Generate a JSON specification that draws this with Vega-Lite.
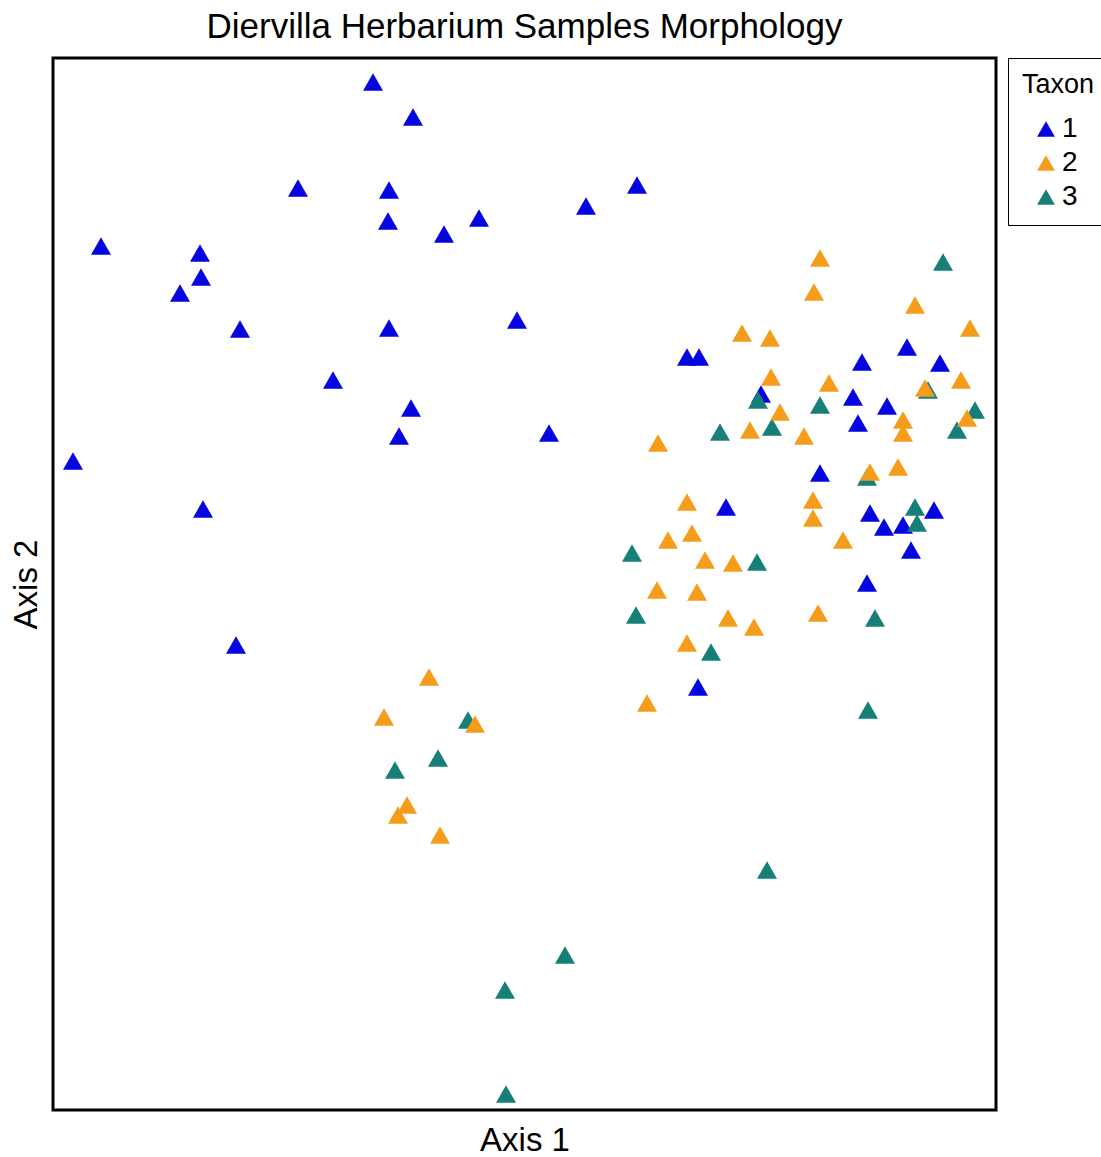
{
  "$schema": "https://vega.github.io/schema/vega-lite/v6.json",
  "autosize": {"type": "none"},
  "padding": {"left": 53, "top": 58, "right": 105, "bottom": 47},
  "width": 943,
  "height": 1052,
  "config": {
    "font": "Liberation Sans",
    "view": {"stroke": "black", "strokeWidth": 3},
    "background": "white"
  },
  "title": {"text": "Diervilla Herbarium Samples Morphology", "fontSize": 35, "fontWeight": "normal", "color": "black", "anchor": "middle", "offset": 13, "font": "Liberation Sans"},
  "data": {"values": [
    {"x": 320, "y": 1028, "taxon": "1"},
    {"x": 360, "y": 993, "taxon": "1"},
    {"x": 245, "y": 922, "taxon": "1"},
    {"x": 336, "y": 920, "taxon": "1"},
    {"x": 584, "y": 925, "taxon": "1"},
    {"x": 533, "y": 904, "taxon": "1"},
    {"x": 426, "y": 892, "taxon": "1"},
    {"x": 335, "y": 889, "taxon": "1"},
    {"x": 391, "y": 876, "taxon": "1"},
    {"x": 48, "y": 864, "taxon": "1"},
    {"x": 147, "y": 857, "taxon": "1"},
    {"x": 148, "y": 833, "taxon": "1"},
    {"x": 127, "y": 817, "taxon": "1"},
    {"x": 187, "y": 781, "taxon": "1"},
    {"x": 464, "y": 790, "taxon": "1"},
    {"x": 336, "y": 782, "taxon": "1"},
    {"x": 280, "y": 730, "taxon": "1"},
    {"x": 358, "y": 702, "taxon": "1"},
    {"x": 346, "y": 674, "taxon": "1"},
    {"x": 496, "y": 677, "taxon": "1"},
    {"x": 20, "y": 649, "taxon": "1"},
    {"x": 150, "y": 601, "taxon": "1"},
    {"x": 183, "y": 465, "taxon": "1"},
    {"x": 634, "y": 753, "taxon": "1"},
    {"x": 646, "y": 753, "taxon": "1"},
    {"x": 708, "y": 716, "taxon": "1"},
    {"x": 854, "y": 763, "taxon": "1"},
    {"x": 809, "y": 748, "taxon": "1"},
    {"x": 887, "y": 747, "taxon": "1"},
    {"x": 800, "y": 713, "taxon": "1"},
    {"x": 834, "y": 704, "taxon": "1"},
    {"x": 805, "y": 687, "taxon": "1"},
    {"x": 767, "y": 637, "taxon": "1"},
    {"x": 673, "y": 603, "taxon": "1"},
    {"x": 817, "y": 597, "taxon": "1"},
    {"x": 831, "y": 583, "taxon": "1"},
    {"x": 850, "y": 585, "taxon": "1"},
    {"x": 881, "y": 600, "taxon": "1"},
    {"x": 858, "y": 560, "taxon": "1"},
    {"x": 814, "y": 527, "taxon": "1"},
    {"x": 645, "y": 423, "taxon": "1"},
    {"x": 890, "y": 848, "taxon": "3"},
    {"x": 922, "y": 700, "taxon": "3"},
    {"x": 904, "y": 680, "taxon": "3"},
    {"x": 767, "y": 705, "taxon": "3"},
    {"x": 875, "y": 720, "taxon": "3"},
    {"x": 705, "y": 710, "taxon": "3"},
    {"x": 719, "y": 683, "taxon": "3"},
    {"x": 667, "y": 678, "taxon": "3"},
    {"x": 814, "y": 633, "taxon": "3"},
    {"x": 862, "y": 603, "taxon": "3"},
    {"x": 864, "y": 587, "taxon": "3"},
    {"x": 579, "y": 557, "taxon": "3"},
    {"x": 704, "y": 548, "taxon": "3"},
    {"x": 583, "y": 495, "taxon": "3"},
    {"x": 822, "y": 492, "taxon": "3"},
    {"x": 658, "y": 458, "taxon": "3"},
    {"x": 815, "y": 400, "taxon": "3"},
    {"x": 415, "y": 390, "taxon": "3"},
    {"x": 385, "y": 352, "taxon": "3"},
    {"x": 342, "y": 340, "taxon": "3"},
    {"x": 714, "y": 240, "taxon": "3"},
    {"x": 512, "y": 155, "taxon": "3"},
    {"x": 452, "y": 120, "taxon": "3"},
    {"x": 453, "y": 16, "taxon": "3"},
    {"x": 767, "y": 852, "taxon": "2"},
    {"x": 761, "y": 818, "taxon": "2"},
    {"x": 862, "y": 805, "taxon": "2"},
    {"x": 917, "y": 782, "taxon": "2"},
    {"x": 689, "y": 777, "taxon": "2"},
    {"x": 717, "y": 772, "taxon": "2"},
    {"x": 718, "y": 733, "taxon": "2"},
    {"x": 776, "y": 727, "taxon": "2"},
    {"x": 872, "y": 722, "taxon": "2"},
    {"x": 908, "y": 730, "taxon": "2"},
    {"x": 727, "y": 698, "taxon": "2"},
    {"x": 850, "y": 690, "taxon": "2"},
    {"x": 850, "y": 677, "taxon": "2"},
    {"x": 914, "y": 692, "taxon": "2"},
    {"x": 751, "y": 674, "taxon": "2"},
    {"x": 697, "y": 680, "taxon": "2"},
    {"x": 605, "y": 667, "taxon": "2"},
    {"x": 817, "y": 638, "taxon": "2"},
    {"x": 845, "y": 643, "taxon": "2"},
    {"x": 760, "y": 610, "taxon": "2"},
    {"x": 760, "y": 592, "taxon": "2"},
    {"x": 790, "y": 570, "taxon": "2"},
    {"x": 765, "y": 497, "taxon": "2"},
    {"x": 634, "y": 608, "taxon": "2"},
    {"x": 615, "y": 570, "taxon": "2"},
    {"x": 639, "y": 577, "taxon": "2"},
    {"x": 652, "y": 550, "taxon": "2"},
    {"x": 680, "y": 547, "taxon": "2"},
    {"x": 604, "y": 520, "taxon": "2"},
    {"x": 644, "y": 518, "taxon": "2"},
    {"x": 675, "y": 492, "taxon": "2"},
    {"x": 701, "y": 483, "taxon": "2"},
    {"x": 634, "y": 467, "taxon": "2"},
    {"x": 594, "y": 407, "taxon": "2"},
    {"x": 376, "y": 433, "taxon": "2"},
    {"x": 331, "y": 393, "taxon": "2"},
    {"x": 422, "y": 386, "taxon": "2"},
    {"x": 354, "y": 305, "taxon": "2"},
    {"x": 345, "y": 295, "taxon": "2"},
    {"x": 387, "y": 275, "taxon": "2"}
  ]},
  "mark": {"type": "point", "shape": "triangle-up", "filled": true, "size": 400, "opacity": 1},
  "encoding": {
    "x": {"field": "x", "type": "quantitative", "scale": {"domain": [0, 943], "nice": false, "zero": false},
      "axis": {"title": "Axis 1", "labels": false, "ticks": false, "domain": false, "grid": false, "titleFontSize": 33, "titleFontWeight": "normal", "titleColor": "black", "titlePadding": 14}},
    "y": {"field": "y", "type": "quantitative", "scale": {"domain": [0, 1052], "nice": false, "zero": false},
      "axis": {"title": "Axis 2", "labels": false, "ticks": false, "domain": false, "grid": false, "titleFontSize": 33, "titleFontWeight": "normal", "titleColor": "black", "titlePadding": 10}},
    "color": {"field": "taxon", "type": "nominal", "scale": {"domain": ["1", "2", "3"], "range": ["#0505E0", "#F59D1A", "#167F78"]},
      "legend": {"title": "Taxon", "orient": "none", "legendX": 955, "legendY": 0, "strokeColor": "black", "fillColor": "white", "padding": 14,
        "titleFontSize": 27, "titleFontWeight": "normal", "titleColor": "black", "labelFontSize": 28, "labelColor": "black",
        "symbolType": "triangle-up", "symbolSize": 320, "symbolOffset": 10, "symbolStrokeWidth": 0, "rowPadding": 6, "labelOffset": 2, "titlePadding": 16}}
  }
}
